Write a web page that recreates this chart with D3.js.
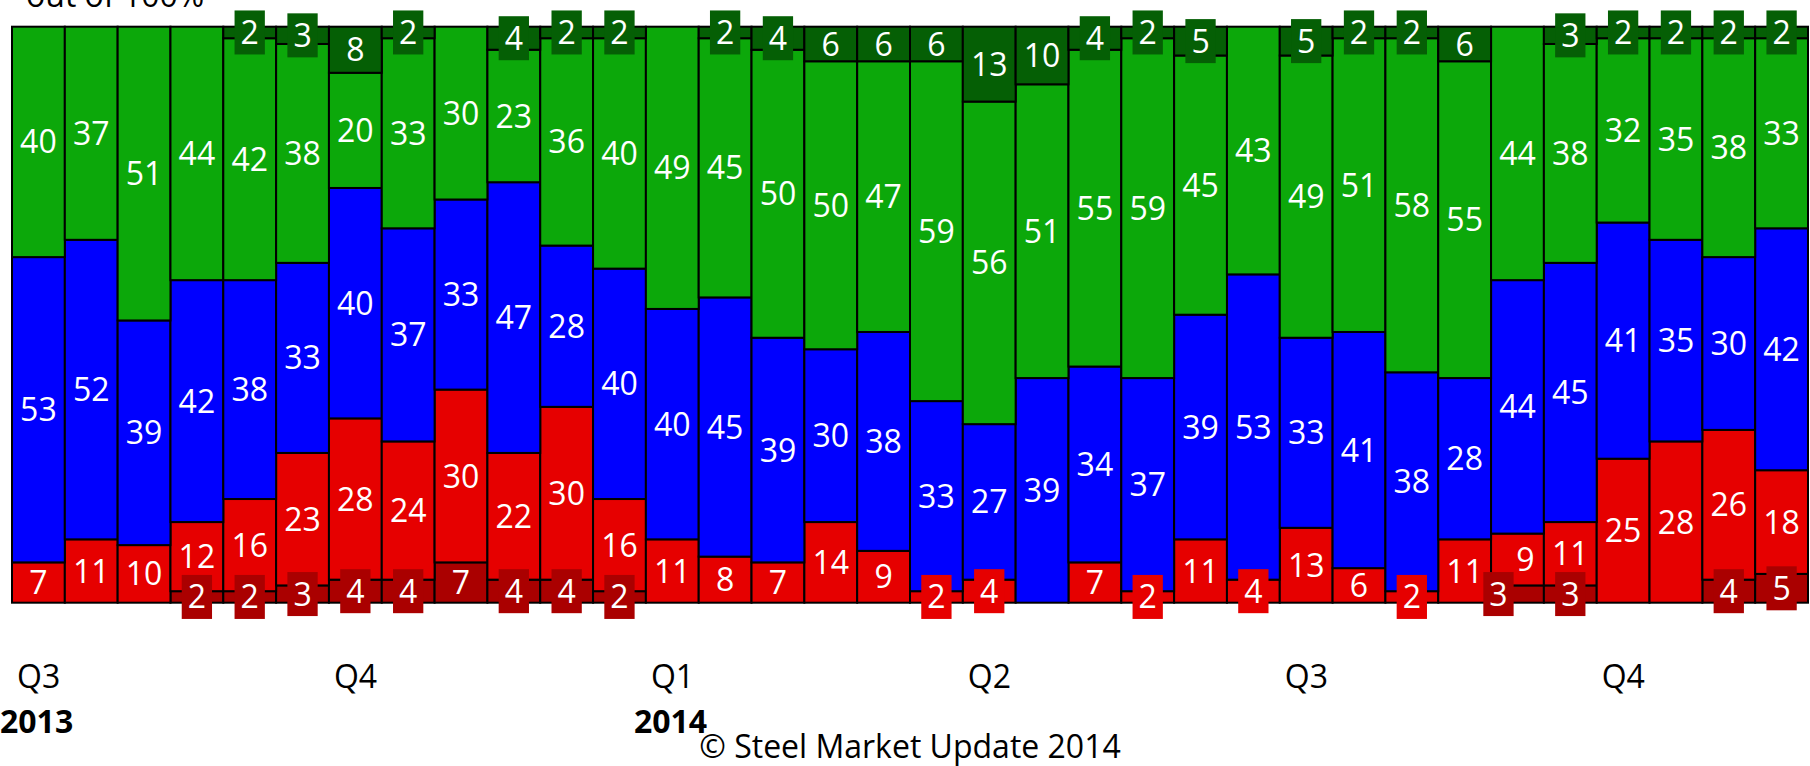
<!DOCTYPE html>
<html>
<head>
<meta charset="utf-8">
<script src="https://cdn.jsdelivr.net/npm/d3@7"></script>
<style>
  body { margin: 0; background: #fff; }
  text { font-family: "Open Sans", "Noto Sans", sans-serif; }
</style>
</head>
<body>
<svg id="chart" width="1810" height="766"></svg>
<script>
// two survey readings per month, Jul 2013 .. Dec 2014
const categories = [
  "Jul-13 a","Jul-13 b","Aug-13 a","Aug-13 b","Sep-13 a","Sep-13 b",
  "Oct-13 a","Oct-13 b","Nov-13 a","Nov-13 b","Dec-13 a","Dec-13 b",
  "Jan-14 a","Jan-14 b","Feb-14 a","Feb-14 b","Mar-14 a","Mar-14 b",
  "Apr-14 a","Apr-14 b","May-14 a","May-14 b","Jun-14 a","Jun-14 b",
  "Jul-14 a","Jul-14 b","Aug-14 a","Aug-14 b","Sep-14 a","Sep-14 b",
  "Oct-14 a","Oct-14 b","Nov-14 a","Nov-14 b"
];
const quarterLabels = ["Q3","Q4","Q1","Q2","Q3","Q4"];
const quarterFirst  = ["Jul-13 a","Oct-13 a","Jan-14 a","Apr-14 a","Jul-14 a","Oct-14 a"];
const yearLabels = ["2013","2014"];
const yearFirst  = ["Jul-13 a","Jan-14 a"];

// stacked bottom -> top
const darkRed   = [0,0,0,2,2,3,4,4,7,4,4,2,0,0,0,0,0,0,0,0,0,0,0,0,0,0,0,0,3,3,0,0,4,5];
const red       = [7,11,10,12,16,23,28,24,30,22,30,16,11,8,7,14,9,2,4,0,7,2,11,4,13,6,2,11,9,11,25,28,26,18];
const blue      = [53,52,39,42,38,33,40,37,33,47,28,40,40,45,39,30,38,33,27,39,34,37,39,53,33,41,38,28,44,45,41,35,30,42];
const green     = [40,37,51,44,42,38,20,33,30,23,36,40,49,45,50,50,47,59,56,51,55,59,45,43,49,51,58,55,44,38,32,35,38,33];
const darkGreen = [0,0,0,0,2,3,8,2,0,4,2,2,0,2,4,6,6,6,13,10,4,2,5,0,5,2,2,6,0,3,2,2,2,2];

const seriesKeys = ["darkRed","red","blue","green","darkGreen"];
const colors = {darkRed:"#aa0000", red:"#e60000", blue:"#0000ff", green:"#0ca80a", darkGreen:"#055f05"};

const table = categories.map((c, i) => ({
  cat: c, darkRed: darkRed[i], red: red[i], blue: blue[i], green: green[i], darkGreen: darkGreen[i]
}));

const svg = d3.select("#chart");
const margin = {top: 26.7, left: 12, right: 2, bottom: 163.3};
const W = 1810, H = 766;
const fs = 32;

const x = d3.scaleBand().domain(categories).range([margin.left, W - margin.right]).padding(0);
const y = d3.scaleLinear().domain([0, 100]).range([H - margin.bottom, margin.top]);

const stacked = d3.stack().keys(seriesKeys)(table);

// bars
const layers = svg.append("g").attr("class", "bars")
  .selectAll("g").data(stacked).join("g")
  .attr("fill", d => colors[d.key]);

layers.selectAll("rect")
  .data(d => d.filter(p => p[1] - p[0] > 0))
  .join("rect")
  .attr("x", d => x(d.data.cat))
  .attr("y", d => y(d[1]))
  .attr("width", x.bandwidth())
  .attr("height", d => y(d[0]) - y(d[1]))
  .attr("stroke", "#000")
  .attr("stroke-width", 2);

// label positions, per bar, bottom -> top
const labels = [];
categories.forEach((c, i) => {
  const col = [];
  stacked.forEach(layer => {
    const p = layer[i];
    const v = p[1] - p[0];
    if (v <= 0) return;
    col.push({
      key: layer.key, v,
      cx: x(c) + x.bandwidth() / 2,
      cy: (y(p[0]) + y(p[1])) / 2,
      boxed: v <= 5
    });
  });
  // Excel-like nudge: boxed label crowding its neighbour
  for (let k = 0; k < col.length - 1; k++) {
    const a = col[k], b = col[k + 1];
    if ((a.boxed || b.boxed) && !(a.boxed && b.boxed) && Math.abs(a.cy - b.cy) < 39) {
      const bx = a.boxed ? a : b, other = a.boxed ? b : a;
      bx.cx -= 19;
      other.cx += 8;
    }
  }
  labels.push(...col);
});

const lab = svg.append("g").attr("class", "labels");
labels.forEach(l => {
  const g = lab.append("g");
  const box = g.append("rect").attr("fill", colors[l.key]);
  const t = g.append("text")
    .attr("x", l.cx).attr("y", l.cy + fs * 0.36)
    .attr("text-anchor", "middle")
    .attr("font-size", fs)
    .attr("fill", "#fff")
    .text(l.v);
  if (l.boxed) {
    const tw = t.node().getComputedTextLength();
    box.attr("x", l.cx - tw / 2 - 6).attr("y", l.cy - 22)
      .attr("width", tw + 12).attr("height", 44);
  } else {
    box.remove();
  }
});

// axis titles
svg.append("text")
  .attr("x", 26).attr("y", 7)
  .attr("font-size", fs)
  .attr("fill", "#000")
  .text("out of 100%");

svg.append("g").selectAll("text")
  .data(quarterLabels).join("text")
  .attr("x", (d, i) => x(quarterFirst[i]) + 5)
  .attr("y", 688)
  .attr("font-size", fs)
  .attr("fill", "#000")
  .text(d => d);

svg.append("g").selectAll("text")
  .data(yearLabels).join("text")
  .attr("x", (d, i) => x(yearFirst[i]) - 12)
  .attr("y", 733)
  .attr("font-size", fs)
  .attr("font-weight", "bold")
  .attr("fill", "#000")
  .text(d => d);

svg.append("text")
  .attr("x", 910).attr("y", 758)
  .attr("text-anchor", "middle")
  .attr("font-size", fs)
  .attr("fill", "#000")
  .text("\u00A9 Steel Market Update 2014");
</script>
</body>
</html>
